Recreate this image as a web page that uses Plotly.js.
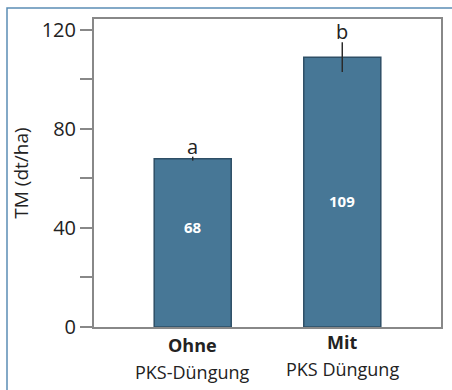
<!DOCTYPE html>
<html><head><meta charset="utf-8">
<script src="https://cdn.plot.ly/plotly-3.0.1.min.js"></script>
<style>html,body{margin:0;padding:0;background:#fff}#chart{width:452px;height:390px}</style>
</head><body><div id="chart"></div>
<script>
const categories = ["Ohne", "Mit"];
const subLabels = ["PKS-Düngung", "PKS Düngung"];
const values = [68, 109];
const errors = [0.8, 6];
const letters = ["a", "b"];
const valueLabelY = [40.5, 51];

const FONT = "Open Sans, sans-serif";
const trace = {
  type: "bar",
  x: [0, 1],
  y: values,
  width: 0.515,
  marker: {color: "#477796", line: {color: "#2e4f66", width: 1.5}},
  error_y: {type: "data", array: errors, arrayminus: errors, visible: true, color: "#2a2a2a", thickness: 1.5, width: 0},
  hoverinfo: "none"
};

const annotations = [];
const catShift = [0, 3];
values.forEach((v, i) => {
  annotations.push({x: i, y: v + errors[i], yanchor: "bottom", text: letters[i], showarrow: false,
    font: {family: FONT, size: 20, color: "#222"}, yshift: -5});
  annotations.push({x: i, y: valueLabelY[i], text: "<b>" + v + "</b>", showarrow: false,
    font: {family: FONT, size: 15, color: "#fff"}});
  annotations.push({x: i, xref: "x", yref: "paper", y: (-18 + catShift[i]) / 308, yanchor: "middle",
    text: "<b>" + categories[i] + "</b>", showarrow: false, font: {family: FONT, size: 18, color: "#222"}});
  annotations.push({x: i, xref: "x", yref: "paper", y: (-45 + catShift[i]) / 308, yanchor: "middle",
    text: subLabels[i], showarrow: false, font: {family: FONT, size: 18, color: "#222"}});
});

const fx = -87 / 347, fy = 1 + 11 / 308;
const layout = {
  width: 452, height: 390,
  margin: {l: 94, r: 11, t: 19, b: 63},
  paper_bgcolor: "#fff", plot_bgcolor: "#fff",
  showlegend: false,
  xaxis: {
    range: [-0.66, 1.66], tickvals: [0, 1], ticktext: ["", ""],
    showgrid: false, zeroline: false, showline: true, mirror: true,
    linecolor: "#888", linewidth: 2, ticks: ""
  },
  yaxis: {
    range: [0, 124.4], tickvals: [0, 20, 40, 60, 80, 100, 120], ticktext: ["0", "", "40", "", "80", "", "120"],
    showgrid: false, zeroline: false, showline: true, mirror: true,
    linecolor: "#888", linewidth: 2, ticks: "outside", ticklen: 12, tickcolor: "#888", tickwidth: 2,
    tickfont: {family: FONT, size: 20, color: "#222"},
    title: {text: "TM (dt/ha)", font: {family: FONT, size: 19, color: "#222"}, standoff: 8}
  },
  annotations: annotations,
  shapes: [{type: "path", xref: "paper", yref: "paper",
    path: "M " + fx + "," + (-0.3) + " L " + fx + "," + fy + " L 1.1," + fy,
    line: {color: "#5b8db5", width: 1.5}}]
};

Plotly.newPlot("chart", [trace], layout, {displayModeBar: false, staticPlot: true});
</script></body></html>
